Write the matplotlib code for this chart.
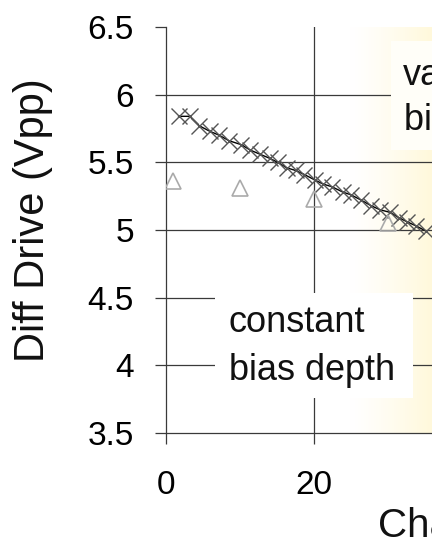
import numpy as np
import matplotlib.pyplot as plt
from matplotlib.patches import Rectangle

plt.rcParams['font.family'] = ['Liberation Sans', 'DejaVu Sans']

# channel number vs differential drive, variable bias depth (crosses)
chan_var = [1.7, 3.2, 4.5, 5.9, 7.2, 8.5, 10.2, 11.4, 12.7, 14.0, 15.1, 16.3, 17.5, 18.7,
            20.1, 21.2, 22.4, 23.9, 25.0, 26.4, 27.7, 28.9, 30.3, 31.5, 32.6, 33.8, 35.2]
drive_var = [5.84, 5.84, 5.77, 5.73, 5.70, 5.66, 5.63, 5.59, 5.56, 5.53, 5.50, 5.46, 5.44, 5.41,
             5.37, 5.34, 5.32, 5.28, 5.26, 5.22, 5.18, 5.15, 5.13, 5.09, 5.06, 5.03, 4.99]

# constant bias depth (triangles)
chan_const = [1, 10, 20, 30]
drive_const = [5.36, 5.31, 5.23, 5.05]

yticks = [3.5, 4, 4.5, 5, 5.5, 6, 6.5]
ytick_labels = ['3.5', '4', '4.5', '5', '5.5', '6', '6.5']
xticks = [0, 20]

W, H = 432, 541
fig = plt.figure(figsize=(W / 100, H / 100), dpi=100)
fig.patch.set_facecolor('white')

ax = fig.add_axes([166 / W, 108 / H, (W - 166) / W, (433 - 27) / H])
xmax = (W - 166) / 7.4
ax.set_xlim(0, xmax)
ax.set_ylim(3.5, 6.5)

# pale yellow wash on the right side of the plot area
t = np.clip((np.linspace(0, xmax, 200) - 25) / (xmax - 25), 0, 1) ** 1.2
grad = np.ones((2, 200, 3))
grad[:, :, 1] = 1 - 0.025 * t
grad[:, :, 2] = 1 - 0.14 * t
ax.imshow(grad, extent=[0, xmax, 3.5, 6.5], aspect='auto', zorder=0, interpolation='bilinear')

gc = '#3a3a3a'
for y in yticks[1:-1]:
    ax.axhline(y, color=gc, lw=0.9, zorder=1)
ax.axvline(20, color=gc, lw=0.9, zorder=1)

# white boxes behind the annotations
ax.add_patch(Rectangle((6.6, 3.758), 26.8, 0.776, facecolor='white', edgecolor='none', zorder=2))
ax.add_patch(Rectangle((30.4, 5.59), 6.0, 0.81, facecolor='#fffef8', edgecolor='none', zorder=2))

ax.plot(chan_var, drive_var, color='black', lw=1.0, zorder=3)
ax.plot(chan_var, drive_var, ls='none', marker='x', ms=11, mew=1.0, color='#555555', zorder=4)
ax.plot(chan_const, drive_const, ls='none', marker='^', ms=12, mfc='none', mec='#aaaaaa',
        mew=1.2, zorder=4)

for s in ['top', 'right']:
    ax.spines[s].set_visible(False)
for s in ['left', 'bottom']:
    ax.spines[s].set_color(gc)
    ax.spines[s].set_linewidth(0.9)

ax.set_yticks(yticks)
ax.set_yticklabels(ytick_labels)
ax.set_xticks(xticks)
ax.tick_params(axis='y', direction='out', length=8, width=0.9, color=gc, pad=15, labelsize=24)
ax.tick_params(axis='x', direction='out', length=8, width=0.9, color=gc, pad=19, labelsize=24)

fig.text(33 / W, 1 - 220 / H, 'Diff Drive (Vpp)', rotation=90, ha='center', va='center',
         fontsize=30, color='#111111')
fig.text(378 / W, 1 - 537 / H, 'Channel', ha='left', va='baseline', fontsize=29, color='#111111')

fig.text(229 / W, 1 - 332 / H, 'constant', ha='left', va='baseline', fontsize=26, color='#111111')
fig.text(229 / W, 1 - 380 / H, 'bias depth', ha='left', va='baseline', fontsize=26, color='#111111')
fig.text(403 / W, 1 - 85 / H, 'variable', ha='left', va='baseline', fontsize=26, color='#111111')
fig.text(404 / W, 1 - 130 / H, 'bias depth', ha='left', va='baseline', fontsize=26, color='#111111')

fig.savefig('out.png', dpi=100)
